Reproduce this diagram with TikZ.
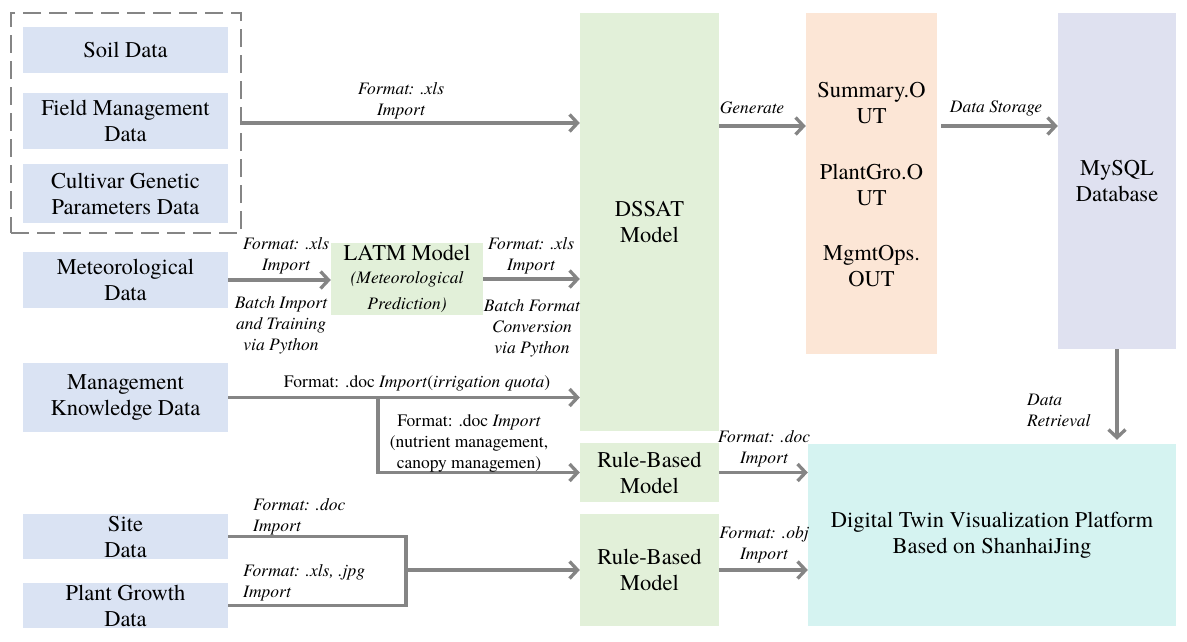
\documentclass[tikz,border=0pt]{standalone}
\usepackage{fontspec}
\setmainfont{TeX Gyre Termes}
\usetikzlibrary{arrows.meta}
\usetikzlibrary{positioning}
\usetikzlibrary{calc}

\definecolor{dataBlue}{HTML}{DAE3F3}
\definecolor{modelGreen}{HTML}{E2F0D9}
\definecolor{outOrange}{HTML}{FCE6D6}
\definecolor{dbLavender}{HTML}{DFE1F0}
\definecolor{twinCyan}{HTML}{D5F3F1}
\definecolor{arrowGray}{HTML}{858585}

\newcommand{\boxfont}{\rmfamily\fontsize{22.5}{26}\selectfont}
\newcommand{\lblfont}{\rmfamily\fontsize{17.5}{21}\selectfont\itshape}

\begin{document}
\begin{tikzpicture}[x=1pt, y=-1pt,
    every node/.style={align=center, text=black},
    box/.style={inner sep=0pt, font=\boxfont},
    data/.style={box, fill=dataBlue, minimum width=205},
    model/.style={box, fill=modelGreen},
    group/.style={draw=arrowGray, line width=2.5pt, dash pattern=on 18pt off 8pt, minimum width=230, minimum height=220},
    flow/.style={draw=arrowGray, line width=3.3pt, -{Straight Barb[length=8pt, width=17pt, line width=3.3pt]}},
    link/.style={draw=arrowGray, line width=3.3pt},
    lbl/.style={inner sep=0pt, font=\lblfont}]

      \useasboundingbox (0,0) rectangle (1187,641);

      % Column x of the data boxes
      \def\datax{125.5}

      % Dashed group of the DSSAT inputs
      \node[group] (inputs) at (126,123) {};
      \node[data, minimum height=46] (soil) at (\datax,50) {Soil Data};
      \node[data, minimum height=56] (field) at (\datax,121) {Field Management\\Data};
      \node[data, minimum height=59] (cultivar) at (\datax,193.5) {Cultivar Genetic\\Parameters Data};

      % Other data sources
      \node[data, minimum height=56] (meteo) at (\datax,280) {Meteorological\\Data};
      \node[data, minimum height=69] (mgmt) at (\datax,397.5) {Management\\Knowledge Data};
      \node[data, minimum height=45] (site) at (\datax,536.5) {Site\\Data};
      \node[data, minimum height=45] (plant) at (\datax,605.5) {Plant Growth\\Data};

      % Models
      \node[model, minimum width=152, minimum height=72] (latm) at (407,279)
        {LATM Model\\[-3pt]\lblfont(Meteorological\\\lblfont Prediction)};
      \node[model, minimum width=139, minimum height=418] (dssat) at (649.5,222) {DSSAT\\Model};
      \node[model, minimum width=139, minimum height=59] (rule1) at (649.5,472.5) {Rule-Based\\Model};
      \node[model, minimum width=139, minimum height=112] (rule2) at (649.5,570) {Rule-Based\\Model};

      % DSSAT output files
      \node[box, fill=outOrange, minimum width=131, minimum height=341] (outfiles) at (871.5,183.5) {};
      \node[box] (sumout) at (871.5,103) {Summary.O\\UT};
      \node[box] (plantout) at (871.5,185) {PlantGro.O\\UT};
      \node[box] (mgmtout) at (871.5,266) {MgmtOps.\\OUT};

      % Database and platform
      \node[box, fill=dbLavender, minimum width=118, minimum height=336] (mysql) at (1117,181) {MySQL\\Database};
      \node[box, fill=twinCyan, minimum width=368, minimum height=182] (twin) at (992,535)
        {Digital Twin Visualization Platform\\Based on ShanhaiJing};

      % Inputs into DSSAT
      \draw[flow] (inputs.east) -- (inputs.east -| dssat.west);
      \node[lbl] (lblinputs) at (401,101) {Format: .xls\\Import};

      \draw[flow] (meteo.east) -- (meteo.east -| latm.west);
      \node[lbl] (lblmeteo) at (286,255.5) {Format: .xls\\Import};
      \node[lbl] (lblbatch) at (281,325) {Batch Import\\and Training\\via Python};

      \draw[flow] (latm.east) -- (latm.east -| dssat.west);
      \node[lbl] (lbllatm) at (531,255.5) {Format: .xls\\Import};
      \node[lbl] (lblconv) at (532,328) {Batch Format\\Conversion\\via Python};

      % Management knowledge, split to DSSAT and rule model
      \coordinate (split) at (378,398);
      \draw[flow] (mgmt.east) -- (mgmt.east -| dssat.west);
      \draw[flow] (split) |- (rule1.west);
      \node[lbl, font=\rmfamily\fontsize{17.5}{21}\selectfont] (lblquota) at (417,383)
        {Format: .doc \textit{Import}(\textit{irrigation quota})};
      \node[lbl, font=\rmfamily\fontsize{17.5}{21}\selectfont] (lblcanopy) at (469,443)
        {Format: .doc \textit{Import}\\(nutrient management,\\canopy managemen)};

      % Site and plant growth into the second rule model
      \coordinate (join) at (406,570);
      \draw[link] (site.east) -- (site.east -| join) -- (plant.east -| join) -- (plant.east);
      \draw[flow] (join) -- (rule2.west);
      \node[lbl, anchor=west, align=left] (lblsite) at (253,517) {Format: .doc\\Import};
      \node[lbl, anchor=west, align=left] (lblplant) at (243,582.5) {Format: .xls, .jpg\\Import};

      % Outputs
      \coordinate (outrow) at (0,126);
      \draw[flow] (dssat.east |- outrow) -- (outfiles.west |- outrow);
      \node[lbl] (lblgen) at (752,108) {Generate};
      \draw[flow] ([xshift=4pt]outfiles.east |- outrow) -- (mysql.west |- outrow);
      \node[lbl] (lblstore) at (996,108) {Data Storage};
      \draw[flow, shorten >=4pt] (mysql.south) -- (mysql.south |- twin.north);
      \node[lbl, anchor=west, align=left] (lblretr) at (1027,410.5) {Data\\Retrieval};

      % Rule models into the platform
      \draw[flow] (rule1.east) -- (rule1.east -| twin.west);
      \node[lbl] (lblrule1) at (764,449) {Format: .doc\\Import};
      \draw[flow] (rule2.east) -- (rule2.east -| twin.west);
      \node[lbl] (lblrule2) at (764,545) {Format: .obj\\Import};

    \end{tikzpicture}
\end{document}
